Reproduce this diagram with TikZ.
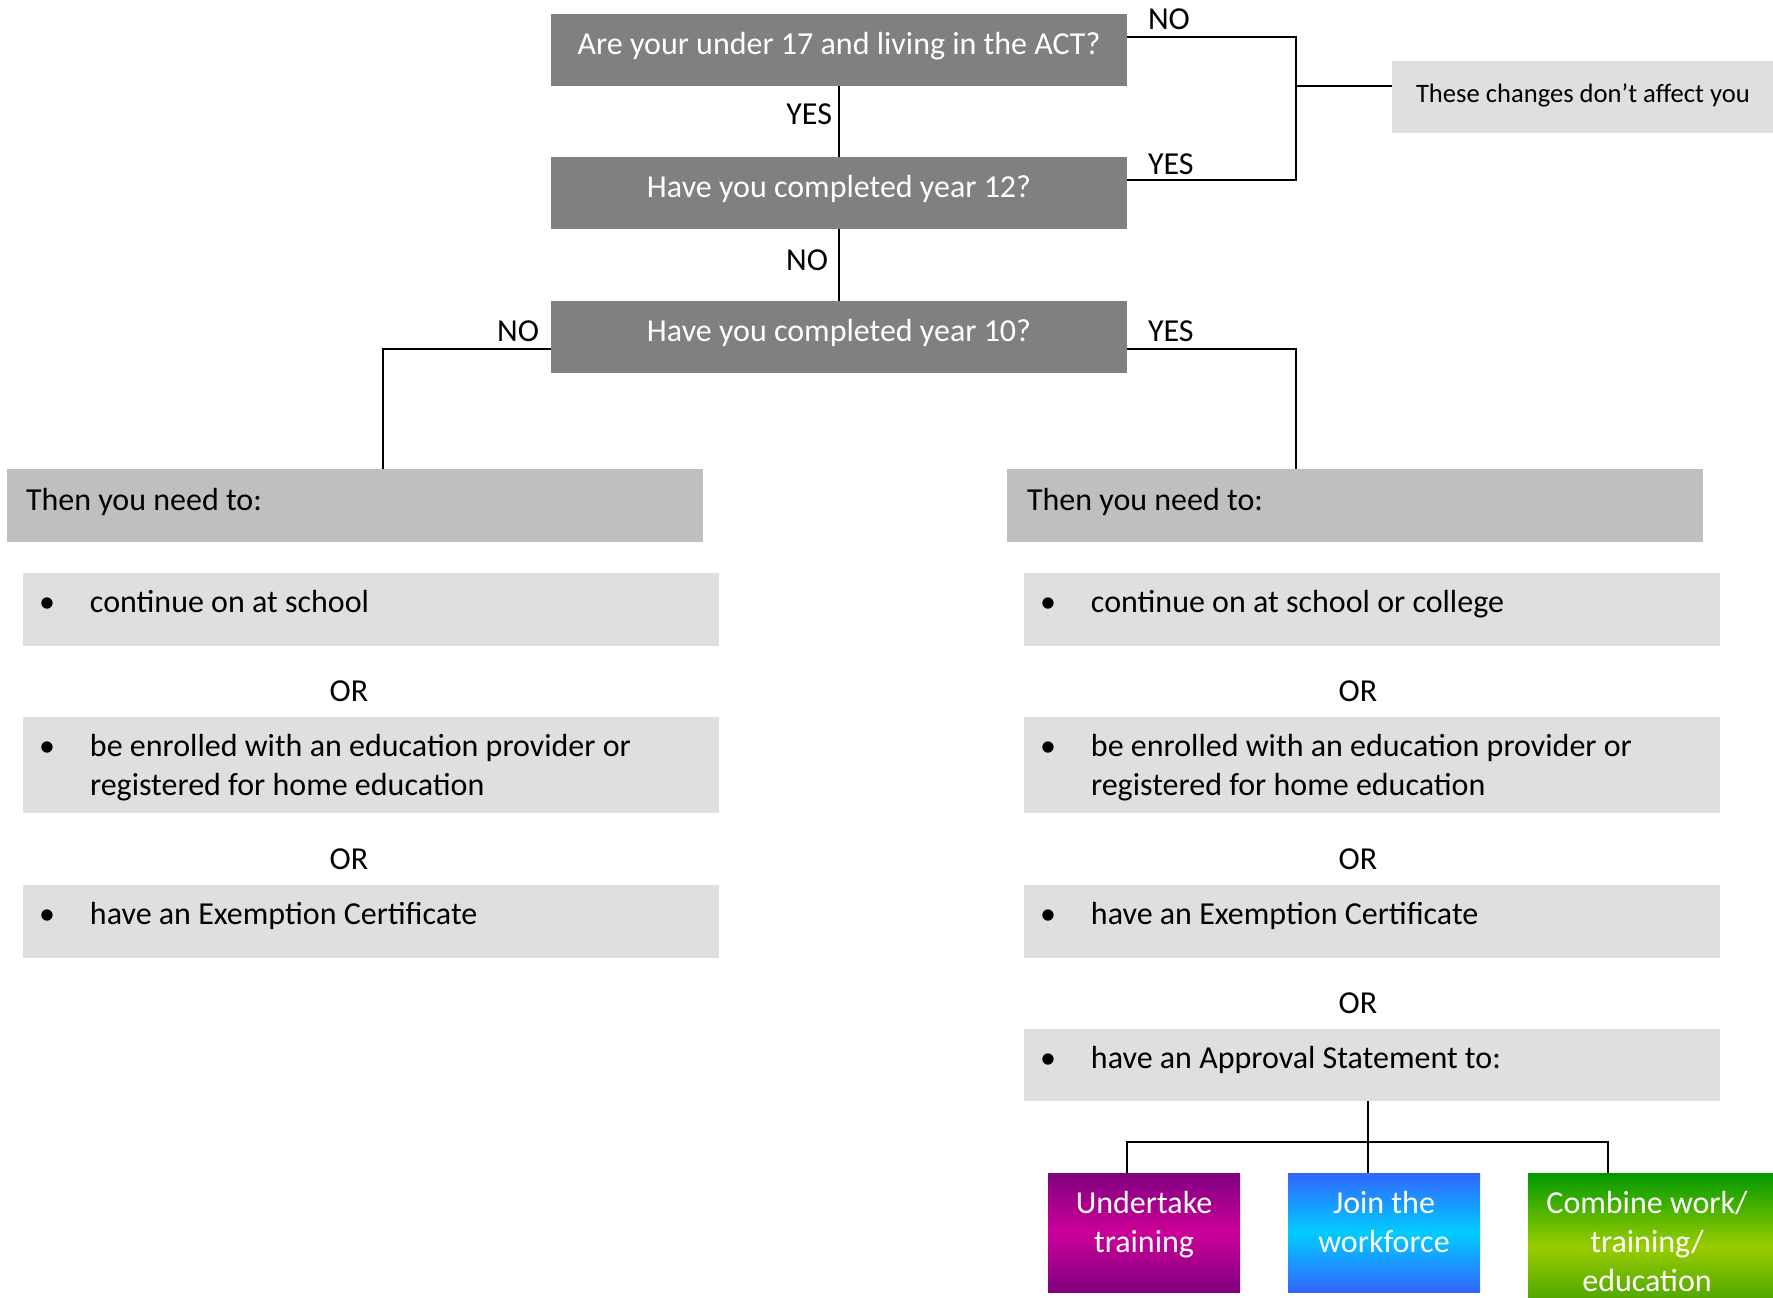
\documentclass[tikz,border=0pt]{standalone}
\usepackage{fontspec}
\setmainfont{Carlito}
\definecolor{qgray}{HTML}{808080}
\definecolor{tgray}{HTML}{BFBFBF}
\definecolor{lgray}{HTML}{DFDFDF}
\definecolor{purpA}{HTML}{800080}
\definecolor{purpB}{HTML}{CC0099}
\definecolor{blueA}{HTML}{3366FF}
\definecolor{blueB}{HTML}{00CCFF}
\definecolor{grnA}{HTML}{009900}
\definecolor{grnB}{HTML}{99CC00}
\definecolor{grnC}{HTML}{339900}
\newcommand{\itembul}{\makebox[0pt][r]{\textbullet\hspace{17.5pt}}}
\begin{document}
\begin{tikzpicture}[x=0.5pt,y=-0.5pt,
  every node/.style={inner sep=0pt, outer sep=0pt},
  box/.style={anchor=north west, draw=none},
  qbox/.style={box, fill=qgray, minimum width=288pt, minimum height=36pt},
  thenbox/.style={box, fill=tgray, minimum width=348pt, minimum height=36.5pt},
  itembox/.style={box, fill=lgray, minimum width=348pt, minimum height=36.5pt},
  bigfont/.style={font=\fontsize{16pt}{19.5pt}\selectfont},
  qtext/.style={bigfont, text=white, anchor=base},
  ltext/.style={bigfont, anchor=base west, align=left},
  ortext/.style={bigfont, anchor=center},
  lbl/.style={bigfont},
  ctext/.style={font=\fontsize{16pt}{19.5pt}\selectfont, text=white, anchor=base, align=center},
  conn/.style={draw=black, line width=1pt},
]
\useasboundingbox (0,0) rectangle (1773,1297);
\clip (0,0) rectangle (1773,1297);
\fill[white] (0,0) rectangle (1773,1297);

% question boxes
\node[qbox] (q1) at (551,14) {};
\node[qtext] (q1t) at ([yshift=-2pt]q1.center) {Are your under 17 and living in the ACT?};
\node[qbox] (q2) at (551,157) {};
\node[qtext] (q2t) at ([yshift=-2pt]q2.center) {Have you completed year 12?};
\node[qbox] (q3) at (551,301) {};
\node[qtext] (q3t) at ([yshift=-2pt]q3.center) {Have you completed year 10?};

% not affected box
\node[box, fill=lgray, minimum width=190.5pt, minimum height=36pt] (aff) at (1392,61) {};
\node[anchor=base west, font=\fontsize{13.3pt}{16pt}\selectfont] (afft) at ([xshift=12pt,yshift=-2.5pt]aff.west) {These changes don’t affect you};

% then boxes
\node[thenbox] (tl) at (7,469) {};
\node[ltext] (tlt) at ([xshift=9.5pt,yshift=-2.25pt]tl.west) {Then you need to:};
\node[thenbox] (tr) at (1007,469) {};
\node[ltext] (trt) at ([xshift=10pt,yshift=-2.25pt]tr.west) {Then you need to:};

% left items
\node[itembox] (l1) at (23,573) {};
\node[ltext] (l1t) at ([xshift=33.5pt,yshift=-1.5pt]l1.west) {\itembul continue on at school};
\node[ortext] (lor1) at (349,691) {OR};
\node[itembox, minimum height=48pt] (l2) at (23,717) {};
\node[ltext] (l2t) at ([xshift=33.5pt,yshift=-15pt]l2.west) {\itembul be enrolled with an education provider or\\registered for home education};
\node[ortext] (lor2) at (349,859) {OR};
\node[itembox] (l3) at (23,885) {};
\node[ltext] (l3t) at ([xshift=33.5pt,yshift=-1.5pt]l3.west) {\itembul have an Exemption Certificate};

% right items
\node[itembox] (r1) at (1024,573) {};
\node[ltext] (r1t) at ([xshift=33.5pt,yshift=-1.5pt]r1.west) {\itembul continue on at school or college};
\node[ortext] (ror1) at (1358,691) {OR};
\node[itembox, minimum height=48pt] (r2) at (1024,717) {};
\node[ltext] (r2t) at ([xshift=33.5pt,yshift=-15pt]r2.west) {\itembul be enrolled with an education provider or\\registered for home education};
\node[ortext] (ror2) at (1358,859) {OR};
\node[itembox] (r3) at (1024,885) {};
\node[ltext] (r3t) at ([xshift=33.5pt,yshift=-1.5pt]r3.west) {\itembul have an Exemption Certificate};
\node[ortext] (ror3) at (1358,1003) {OR};
\node[itembox, minimum height=36pt] (r4) at (1024,1029) {};
\node[ltext] (r4t) at ([xshift=33.5pt,yshift=-1.5pt]r4.west) {\itembul have an Approval Statement to:};

% coloured boxes
\node[box, minimum width=96pt, minimum height=59.5pt, top color=purpA, bottom color=purpA, middle color=purpB] (c1) at (1048,1173) {};
\node[ctext] (c1t) at ([yshift=-39.5pt]c1.north) {Undertake\\training};
\node[box, minimum width=96pt, minimum height=59.5pt, top color=blueA, bottom color=blueA, middle color=blueB] (c2) at (1288,1173) {};
\node[ctext] (c2t) at ([yshift=-39.5pt]c2.north) {Join the\\workforce};
\node[box, minimum width=123pt, minimum height=73.5pt, top color=grnA, bottom color=grnC, middle color=grnB] (c3) at (1528,1173) {};
\node[ctext] (c3t) at ([xshift=-2pt,yshift=-59pt]c3.north) {Combine work/\\training/\\education};

% labels
\node[lbl, anchor=east] (yes1) at (832,114) {YES};
\node[lbl, anchor=east] (no1) at (828,260) {NO};
\node[lbl, anchor=west] (no2) at (1148,19) {NO};
\node[lbl, anchor=west] (yes2) at (1148,164) {YES};
\node[lbl, anchor=east] (no3) at (539,331) {NO};
\node[lbl, anchor=west] (yes3) at (1148,331) {YES};

% connectors
\draw[conn] (q1.south) -- (q2.north);
\draw[conn] (q2.south) -- (q3.north);
\coordinate (m1) at (1296,86);
\draw[conn] ([yshift=6.5pt]q1.east) -| (m1) |- ([yshift=6.5pt]q2.east);
\draw[conn] (m1) -- (m1 -| aff.west);
\draw[conn] ([yshift=-6pt]q3.west) -| ([xshift=14pt]tl.north);
\draw[conn] ([yshift=-6pt]q3.east) -| ([xshift=-29.5pt]tr.north);
\coordinate (hub) at (1368,1142);
\draw[conn] (r4.south -| hub) -- (hub);
\draw[conn] ([xshift=-8.5pt]c1.north) |- (hub) -| ([xshift=-21.5pt]c3.north);
\draw[conn] (hub) -- (hub |- c2.north);
\end{tikzpicture}
\end{document}
